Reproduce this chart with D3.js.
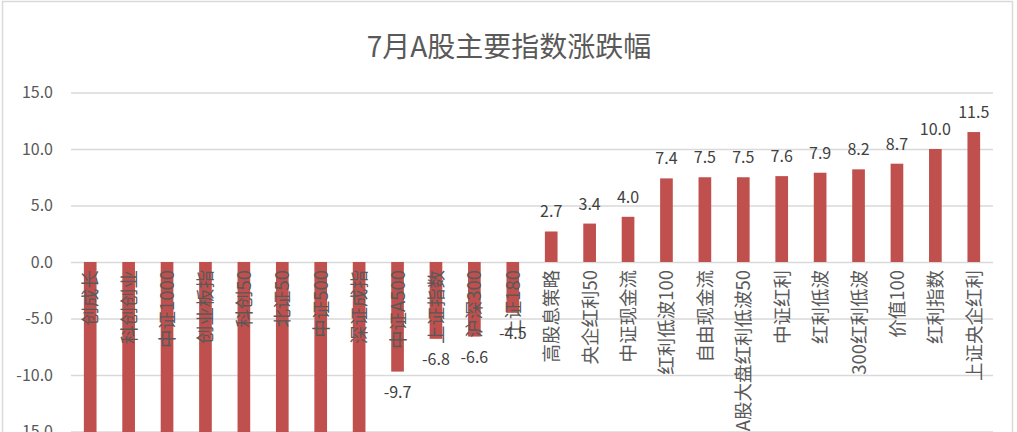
<!DOCTYPE html>
<html>
<head>
<meta charset="utf-8">
<script src="https://cdn.jsdelivr.net/npm/d3@7"></script>
<style>
  html, body { margin: 0; padding: 0; background: #fff; overflow: hidden; }
  svg { display: block; }
</style>
</head>
<body>
<div id="chart"></div>
<script>
const categories = ["创成长", "科创创业", "中证1000", "创业板指", "科创50", "北证50", "中证500", "深证成指",
  "中证A500", "上证指数", "沪深300", "上证180", "高股息策略", "央企红利50", "中证现金流", "红利低波100",
  "自由现金流", "A股大盘红利低波50", "中证红利", "红利低波", "300红利低波", "价值100", "红利指数", "上证央企红利"];
// 前8个低于-15，图中被截掉，数值为估计
const values = [-24.0, -22.5, -21.0, -20.0, -19.0, -18.0, -17.0, -16.0,
  -9.7, -6.8, -6.6, -4.5, 2.7, 3.4, 4.0, 7.4,
  7.5, 7.5, 7.6, 7.9, 8.2, 8.7, 10.0, 11.5];
const yTicks = [-15, -10, -5, 0, 5, 10, 15];
const title = "7月A股主要指数涨跌幅";

const data = categories.map((c, i) => ({ name: c, value: values[i] }));

const width = 1017;
const height = 432;
const font = "'Microsoft YaHei', 'Noto Sans CJK SC', sans-serif";
const fmt = v => v.toFixed(1); // 用普通减号

const svg = d3.select("#chart")
  .append("svg")
  .attr("width", width)
  .attr("height", height)
  .style("font-family", font);

// 外框
svg.append("rect")
  .attr("x", 2.5).attr("y", 1.5)
  .attr("width", 1010).attr("height", height + 10)
  .attr("fill", "#fff")
  .attr("stroke", "#d9d9d9")
  .attr("stroke-width", 1.5);

svg.append("text")
  .attr("x", 509)
  .attr("y", 57)
  .attr("text-anchor", "middle")
  .attr("font-size", "28px")
  .attr("fill", "#595959")
  .text(title);

const x = d3.scaleBand()
  .domain(categories)
  .range([71, 993])
  .paddingInner(0.67)
  .paddingOuter(0.335);

const y = d3.scaleLinear()
  .domain([-15, 15])
  .range([431.5, 92.5]);

const yAxis = svg.append("g")
  .attr("transform", "translate(71,0)")
  .call(d3.axisLeft(y)
    .tickValues(yTicks)
    .tickSize(-(993 - 71))
    .tickPadding(18)
    .tickFormat(fmt));

yAxis.select(".domain").remove();
yAxis.selectAll(".tick line")
  .attr("stroke", "#d9d9d9")
  .attr("stroke-width", 1.5);
yAxis.selectAll(".tick text")
  .attr("fill", "#595959")
  .attr("font-size", "16px")
  .attr("font-family", font);

svg.append("g")
  .selectAll("rect")
  .data(data)
  .enter()
  .append("rect")
  .attr("x", d => x(d.name))
  .attr("width", x.bandwidth())
  .attr("y", d => y(Math.max(0, d.value)))
  .attr("height", d => Math.abs(y(d.value) - y(0)))
  .attr("fill", "#c0504d");

// 分类标签（竖排，从0轴往下）
svg.append("g")
  .selectAll("text")
  .data(data)
  .enter()
  .append("text")
  .attr("transform", d => `translate(${x(d.name) + x.bandwidth() / 2 + 7},${y(0) + 8}) rotate(-90)`)
  .attr("text-anchor", "end")
  .attr("font-size", "18.5px")
  .attr("fill", "#595959")
  .text(d => d.name);

// 数据标签
svg.append("g")
  .selectAll("text")
  .data(data)
  .enter()
  .append("text")
  .attr("x", d => x(d.name) + x.bandwidth() / 2)
  .attr("y", d => d.value >= 0 ? y(d.value) - 14 : y(d.value) + 26)
  .attr("text-anchor", "middle")
  .attr("font-size", "16px")
  .attr("fill", "#404040")
  .text(d => fmt(d.value));
</script>
</body>
</html>
